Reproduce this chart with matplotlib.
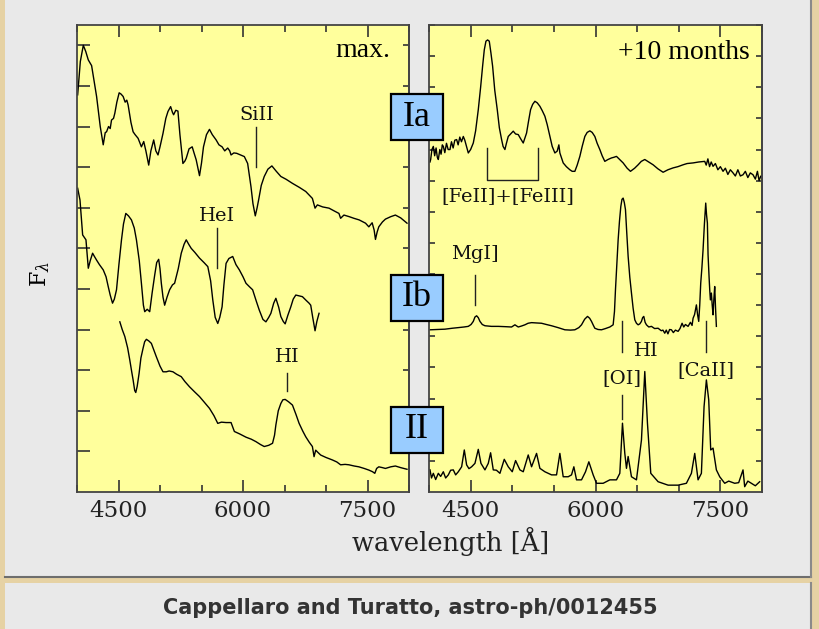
import matplotlib
matplotlib.use('Agg')
import matplotlib.pyplot as plt
from matplotlib.patches import Rectangle
from matplotlib.ticker import FixedLocator, MultipleLocator

# ---------------- data ----------------
# left panel: spectra at maximum
ia_max_wl = [4008, 4040, 4076, 4105, 4136, 4176, 4236, 4280, 4316, 4340, 4356, 4380, 4400, 4416, 4440,
             4456, 4480, 4508, 4530, 4556, 4580, 4600, 4616, 4650, 4676, 4700, 4736, 4776, 4804, 4830,
             4864, 4890, 4924, 4950, 4976, 5000, 5036, 5070, 5096, 5128, 5150, 5164, 5190, 5216, 5240,
             5276, 5300, 5316, 5350, 5388, 5410, 5436, 5476, 5500, 5524, 5560, 5596, 5630, 5676, 5710,
             5748, 5780, 5816, 5840, 5856, 5890, 5924, 5970, 6016, 6056, 6096, 6120, 6148, 6170, 6188,
             6220, 6256, 6300, 6348, 6400, 6456, 6520, 6596, 6680, 6756, 6836, 6868, 6896, 6960, 7036,
             7100, 7156, 7176, 7216, 7280, 7336, 7400, 7476, 7516, 7556, 7580, 7596, 7616, 7636, 7680,
             7716, 7780, 7836, 7900, 7976]
ia_max_fl = [9.78, 10.6, 11.0, 10.85, 10.64, 10.5, 9.74, 9.0, 8.55, 8.85, 8.87, 9.0, 8.95, 9.16, 9.2,
             9.33, 9.6, 9.83, 9.8, 9.74, 9.6, 9.65, 9.53, 9.1, 8.87, 8.8, 8.71, 8.5, 8.63, 8.4,
             8.05, 8.4, 8.67, 8.4, 8.3, 8.5, 8.83, 9.2, 9.37, 9.49, 9.35, 9.29, 9.4, 9.38, 8.8,
             8.09, 8.15, 8.22, 8.45, 8.5, 8.35, 8.18, 7.79, 8.1, 8.5, 8.8, 8.93, 8.8, 8.67, 8.55,
             8.5, 8.4, 8.47, 8.4, 8.3, 8.35, 8.34, 8.3, 8.26, 8.09, 7.52, 7.1, 6.8, 7.0, 7.19,
             7.55, 7.77, 7.95, 8.03, 7.9, 7.77, 7.7, 7.6, 7.5, 7.4, 7.23, 6.99, 7.07, 7.02, 6.99,
             6.92, 6.86, 6.74, 6.82, 6.78, 6.74, 6.7, 6.62, 6.53, 6.63, 6.45, 6.22, 6.4, 6.53, 6.65,
             6.72, 6.78, 6.82, 6.75, 6.62]

ib_max_wl = [4008, 4036, 4068, 4108, 4136, 4160, 4188, 4210, 4236, 4270, 4316, 4350, 4376, 4400, 4428,
             4450, 4476, 4505, 4536, 4560, 4588, 4620, 4656, 4690, 4716, 4750, 4776, 4800, 4816, 4846,
             4876, 4905, 4936, 4960, 4984, 5000, 5016, 5036, 5056, 5085, 5116, 5150, 5176, 5220, 5256,
             5290, 5316, 5346, 5376, 5420, 5476, 5530, 5576, 5610, 5636, 5665, 5696, 5720, 5748, 5770,
             5796, 5830, 5876, 5915, 5956, 6000, 6036, 6080, 6116, 6160, 6196, 6240, 6276, 6310, 6336,
             6370, 6396, 6430, 6456, 6485, 6508, 6540, 6576, 6605, 6636, 6676, 6716, 6760, 6796, 6816,
             6840, 6868, 6890, 6916]
ib_max_fl = [7.48, 7.19, 6.33, 6.21, 5.51, 5.7, 5.88, 5.8, 5.71, 5.6, 5.47, 5.3, 5.06, 4.85, 4.65,
             4.75, 4.98, 5.6, 6.21, 6.6, 6.86, 6.8, 6.7, 6.5, 6.21, 5.7, 5.14, 4.6, 4.44, 4.5,
             4.44, 4.9, 5.34, 5.65, 5.73, 5.5, 5.14, 4.8, 4.6, 4.8, 4.98, 5.1, 5.14, 5.5, 5.88,
             6.1, 6.21, 6.1, 6.0, 5.9, 5.76, 5.65, 5.55, 5.2, 4.73, 4.3, 4.15, 4.3, 4.56, 5.1,
             5.63, 5.75, 5.8, 5.6, 5.47, 5.3, 5.14, 5.05, 4.98, 4.7, 4.48, 4.25, 4.19, 4.3, 4.4,
             4.65, 4.77, 4.55, 4.32, 4.2, 4.14, 4.35, 4.56, 4.75, 4.85, 4.83, 4.81, 4.72, 4.65, 4.6,
             4.3, 3.97, 4.2, 4.4]

ii_max_wl = [4516, 4545, 4576, 4610, 4636, 4660, 4676, 4695, 4708, 4725, 4748, 4770, 4796, 4815, 4836,
             4865, 4896, 4925, 4956, 5000, 5036, 5076, 5110, 5156, 5200, 5256, 5300, 5356, 5420, 5476,
             5530, 5596, 5650, 5696, 5740, 5796, 5856, 5896, 5960, 6036, 6100, 6156, 6210, 6256, 6310,
             6356, 6380, 6396, 6425, 6456, 6480, 6508, 6550, 6596, 6640, 6676, 6720, 6756, 6800, 6836,
             6856, 6876, 6900, 6936, 7000, 7076, 7130, 7176, 7230, 7276, 7340, 7396, 7460, 7516, 7560,
             7588, 7610, 7636, 7680, 7716, 7780, 7836, 7900, 7976]
ii_max_fl = [4.19, 4.0, 3.83, 3.55, 3.25, 2.95, 2.76, 2.5, 2.45, 2.6, 2.92, 3.3, 3.54, 3.7, 3.76,
             3.72, 3.66, 3.5, 3.33, 3.1, 2.96, 2.96, 2.98, 2.96, 2.9, 2.84, 2.72, 2.59, 2.46, 2.35,
             2.22, 2.06, 1.88, 1.69, 1.72, 1.71, 1.71, 1.49, 1.43, 1.35, 1.3, 1.24, 1.17, 1.12, 1.15,
             1.2, 1.4, 1.65, 2.0, 2.18, 2.27, 2.28, 2.22, 2.14, 1.9, 1.69, 1.5, 1.36, 1.22, 1.12,
             0.87, 1.03, 0.98, 0.91, 0.85, 0.79, 0.74, 0.67, 0.68, 0.67, 0.64, 0.62, 0.58, 0.54, 0.5,
             0.46, 0.58, 0.62, 0.6, 0.58, 0.62, 0.64, 0.6, 0.56]

# right panel: spectra about 10 months later
ia_late_wl = [4012, 4020, 4035, 4052, 4068, 4085, 4100, 4112, 4130, 4145, 4160, 4172, 4190, 4210, 4230,
              4252, 4270, 4290, 4310, 4332, 4350, 4370, 4390, 4412, 4430, 4450, 4472, 4500, 4532, 4560,
              4592, 4620, 4644, 4664, 4684, 4704, 4724, 4744, 4764, 4790, 4820, 4845, 4872, 4890, 4912,
              4930, 4952, 4980, 5012, 5040, 5072, 5100, 5132, 5150, 5172, 5195, 5220, 5245, 5272, 5300,
              5332, 5360, 5392, 5420, 5452, 5480, 5512, 5540, 5560, 5572, 5590, 5612, 5650, 5692, 5720,
              5752, 5780, 5812, 5840, 5872, 5900, 5932, 5960, 5992, 6020, 6052, 6080, 6112, 6150, 6192,
              6220, 6252, 6290, 6332, 6380, 6420, 6470, 6512, 6550, 6592, 6640, 6692, 6750, 6812, 6870,
              6932, 6990, 7052, 7100, 7172, 7240, 7312, 7330, 7350, 7370, 7390, 7412, 7440, 7470, 7500,
              7532, 7560, 7590, 7620, 7652, 7680, 7710, 7740, 7772, 7800, 7830, 7860, 7892, 7920, 7945,
              7965, 7984]
ia_late_fl = [10.6, 10.68, 11.0, 11.1, 10.8, 11.05, 10.75, 10.68, 11.0, 10.85, 11.15, 11.1, 10.9, 11.2, 11.0,
              11.0, 11.25, 11.05, 11.3, 11.32, 11.15, 11.4, 11.25, 11.42, 11.3, 11.1, 10.89, 11.0, 11.21, 11.6,
              12.28, 13.0, 13.68, 14.2, 14.48, 14.52, 14.48, 14.1, 13.68, 12.9, 12.28, 11.7, 11.32, 11.1, 11.0,
              11.2, 11.42, 11.5, 11.59, 11.5, 11.48, 11.35, 11.21, 11.35, 11.53, 11.9, 12.28, 12.45, 12.55, 12.5,
              12.39, 12.25, 12.07, 11.8, 11.42, 11.1, 10.89, 10.95, 11.15, 10.89, 10.75, 10.57, 10.45, 10.35, 10.3,
              10.3, 10.5, 10.78, 11.1, 11.42, 11.55, 11.6, 11.55, 11.42, 11.2, 11.0, 10.8, 10.62, 10.68, 10.73,
              10.75, 10.78, 10.68, 10.57, 10.4, 10.3, 10.4, 10.51, 10.62, 10.68, 10.6, 10.51, 10.38, 10.27, 10.35,
              10.41, 10.45, 10.51, 10.55, 10.57, 10.6, 10.62, 10.5, 10.7, 10.45, 10.6, 10.46, 10.55, 10.35, 10.45,
              10.3, 10.4, 10.2, 10.35, 10.25, 10.15, 10.35, 10.15, 10.19, 10.3, 10.1, 10.25, 10.19, 10.05, 10.3,
              10.0, 10.14]

ib_late_wl = [4012, 4100, 4192, 4280, 4352, 4420, 4472, 4505, 4532, 4552, 4572, 4592, 4612, 4640, 4672,
              4750, 4832, 4920, 4992, 5032, 5072, 5110, 5152, 5190, 5232, 5290, 5352, 5410, 5472, 5550,
              5632, 5700, 5752, 5800, 5832, 5870, 5904, 5930, 5952, 5975, 5992, 6030, 6072, 6120, 6172,
              6212, 6228, 6240, 6256, 6272, 6288, 6304, 6318, 6332, 6346, 6360, 6376, 6392, 6412, 6432,
              6452, 6472, 6492, 6512, 6532, 6552, 6566, 6580, 6596, 6612, 6640, 6672, 6710, 6752, 6790,
              6810, 6832, 6850, 6870, 6890, 6912, 6935, 6960, 6992, 7015, 7040, 7060, 7080, 7112, 7140,
              7160, 7172, 7190, 7212, 7226, 7240, 7252, 7264, 7278, 7292, 7308, 7324, 7334, 7344, 7352,
              7364, 7372, 7380, 7392, 7402, 7412, 7422, 7432, 7442, 7452]
ib_late_fl = [5.21, 5.22, 5.23, 5.26, 5.28, 5.3, 5.32, 5.38, 5.48, 5.62, 5.66, 5.6, 5.48, 5.38, 5.34,
              5.32, 5.32, 5.31, 5.3, 5.37, 5.3, 5.33, 5.37, 5.42, 5.44, 5.43, 5.42, 5.38, 5.34, 5.28,
              5.21, 5.2, 5.21, 5.28, 5.37, 5.55, 5.64, 5.58, 5.48, 5.35, 5.26, 5.22, 5.21, 5.25, 5.3,
              5.37, 5.8, 6.5, 7.3, 8.1, 8.7, 9.17, 9.4, 9.44, 9.3, 9.07, 8.3, 7.57, 6.9, 6.39,
              5.9, 5.53, 5.42, 5.37, 5.4, 5.48, 5.6, 5.64, 5.45, 5.37, 5.3, 5.32, 5.25, 5.26, 5.18,
              5.2, 5.1, 5.2, 5.08, 5.22, 5.21, 5.12, 5.2, 5.16, 5.25, 5.42, 5.3, 5.38, 5.32, 5.45,
              5.35, 5.58, 5.7, 6.01, 5.7, 5.48, 6.0, 6.71, 7.2, 7.78, 8.6, 9.28, 8.9, 8.64, 7.62,
              6.92, 6.5, 6.17, 6.39, 6.0, 5.69, 6.2, 6.6, 5.9, 5.32]

ii_late_wl = [4012, 4030, 4052, 4080, 4112, 4140, 4172, 4200, 4232, 4260, 4292, 4320, 4352, 4392, 4424,
              4452, 4480, 4512, 4552, 4592, 4624, 4672, 4712, 4740, 4772, 4810, 4852, 4904, 4952, 5000,
              5040, 5092, 5132, 5192, 5232, 5292, 5332, 5392, 5472, 5532, 5572, 5612, 5672, 5712, 5740,
              5772, 5832, 5880, 5920, 5972, 6012, 6092, 6172, 6252, 6292, 6324, 6352, 6372, 6392, 6432,
              6492, 6552, 6592, 6624, 6664, 6752, 6872, 6992, 7092, 7152, 7192, 7232, 7272, 7304, 7332,
              7360, 7384, 7412, 7452, 7492, 7552, 7600, 7672, 7720, 7772, 7792, 7830, 7872, 7920, 7972]
ii_late_fl = [0.71, 0.45, 0.6, 0.4, 0.6, 0.5, 0.65, 0.45, 0.55, 0.7, 0.71, 0.55, 0.65, 0.81, 1.35,
              0.87, 0.75, 0.81, 0.92, 1.37, 0.92, 0.71, 0.92, 1.26, 0.71, 0.7, 0.6, 1.05, 0.81, 0.65,
              1.01, 0.71, 0.65, 1.19, 0.81, 1.24, 0.76, 0.65, 0.55, 0.55, 1.24, 0.49, 0.49, 0.55, 0.81,
              0.39, 0.39, 0.65, 0.97, 0.55, 0.28, 0.28, 0.39, 0.39, 0.6, 2.21, 1.24, 0.76, 1.14, 0.49,
              0.39, 1.67, 3.87, 2.21, 0.6, 0.33, 0.22, 0.22, 0.28, 0.6, 1.24, 0.39, 0.6, 2.74, 3.6,
              2.96, 1.35, 1.41, 0.71, 0.49, 0.28, 0.35, 0.28, 0.3, 0.71, 0.17, 0.35, 0.28, 0.2, 0.33]

x_major = [4500, 6000, 7500]

# ---------------- colours / fonts ----------------
grey_bg = '#e9e9e9'
tan = '#e6d2a4'
yellow = '#ffff9c'
box_blue = '#99ccff'
serif = 'DejaVu Serif'
times = 'Liberation Serif'

W, H = 819, 629
fig = plt.figure(figsize=(W / 100, H / 100), dpi=100)
fig.patch.set_facecolor(tan)


def fx(px):
    return px / W


def fy(py):
    return 1 - py / H


# page panels behind the chart
fig.add_artist(Rectangle((fx(5), fy(577)), fx(806), 577 / H, transform=fig.transFigure,
                         fc=grey_bg, ec='none', zorder=-10))
fig.add_artist(plt.Line2D([fx(5), fx(811)], [fy(577), fy(577)], transform=fig.transFigure,
                          color='#6e6e6e', lw=1.5, zorder=-9))
fig.add_artist(plt.Line2D([fx(811), fx(811)], [fy(0), fy(577)], transform=fig.transFigure,
                          color='#8a8a8a', lw=1.5, zorder=-9))
fig.add_artist(Rectangle((fx(5), 0), fx(806), 46 / H, transform=fig.transFigure,
                         fc=grey_bg, ec='none', zorder=-10))
fig.add_artist(plt.Line2D([fx(811), fx(811)], [0, fy(583)], transform=fig.transFigure,
                          color='#8a8a8a', lw=1.5, zorder=-9))

ax1 = fig.add_axes([fx(77), fy(492), fx(332), 467 / H])
ax2 = fig.add_axes([fx(429), fy(492), fx(333), 467 / H])


def style_axes(ax, ymax, left_len):
    ax.set_facecolor(yellow)
    ax.set_xlim(4000, 8000)
    ax.set_ylim(0, ymax)
    ax.xaxis.set_major_locator(FixedLocator(x_major))
    ax.xaxis.set_minor_locator(MultipleLocator(500))
    ax.set_xticklabels([str(v) for v in x_major], fontfamily=serif)
    ax.set_yticks(range(1, int(ymax) + 1))
    ax.yaxis.set_ticklabels([])
    ax.tick_params(axis='x', which='major', direction='in', length=8.5, width=1.2,
                   top=True, labelsize=16.5, pad=6, colors='#333333', labelcolor='#222222')
    ax.tick_params(axis='x', which='minor', direction='in', length=5, width=1.2, top=True,
                   colors='#333333')
    ax.tick_params(axis='y', which='major', direction='in', length=left_len, width=1.2,
                   left=True, right=False, colors='#333333')
    sec = ax.secondary_yaxis('right')
    sec.set_yticks(range(1, int(ymax) + 1))
    sec.yaxis.set_ticklabels([])
    sec.tick_params(axis='y', direction='in', length=4.5, width=1.2, colors='#333333')
    sec.spines['right'].set_color('#444444')
    sec.spines['right'].set_linewidth(1.3)
    for s in ax.spines.values():
        s.set_color('#444444')
        s.set_linewidth(1.3)


style_axes(ax1, 11.5, 9)
style_axes(ax2, 15.0, 4.5)

lw = 1.0
ax1.plot(ia_max_wl, ia_max_fl, color='black', lw=lw)
ax1.plot(ib_max_wl, ib_max_fl, color='black', lw=lw)
ax1.plot(ii_max_wl, ii_max_fl, color='black', lw=lw)
ax2.plot(ia_late_wl, ia_late_fl, color='black', lw=lw)
ax2.plot(ib_late_wl, ib_late_fl, color='black', lw=lw)
ax2.plot(ii_late_wl, ii_late_fl, color='black', lw=lw)

lab = dict(fontfamily=serif, fontsize=14, ha='center', va='center', color='#111111')
mark = dict(color='#222222', lw=1.0)

# left panel labels
ax1.text(0.943, 0.946, 'max.', transform=ax1.transAxes, ha='right', va='center',
         fontfamily=times, fontsize=20)
ax1.text(6160, 9.29, 'SiII', **lab)
ax1.plot([6160, 6160], [8.0, 9.0], **mark)
ax1.text(5692, 6.8, 'HeI', **lab)
ax1.plot([5692, 5692], [5.52, 6.5], **mark)
ax1.text(6532, 3.33, 'HI', **lab)
ax1.plot([6532, 6532], [2.49, 2.93], **mark)

# right panel labels
ax2.text(0.964, 0.942, '+10 months', transform=ax2.transAxes, ha='right', va='center',
         fontfamily=times, fontsize=20)
ax2.plot([4696, 4696, 5308, 5308], [11.06, 10.03, 10.03, 11.06], **mark)
ax2.text(4948, 9.52, '[FeII]+[FeIII]', **lab)
ax2.text(4552, 7.65, 'MgI]', **lab)
ax2.plot([4552, 4552], [6.01, 6.98], **mark)
ax2.plot([6324, 6324], [4.5, 5.5], **mark)
ax2.plot([6324, 6324], [2.35, 3.12], **mark)
ax2.text(6316, 3.67, '[OI]', **lab)
ax2.text(6604, 4.53, 'HI', **lab)
ax2.plot([7324, 7324], [4.5, 5.5], **mark)
ax2.text(7324, 3.92, '[CaII]', **lab)

# type boxes between the panels
for name, top in [('Ia', 94), ('Ib', 275), ('II', 407)]:
    fig.add_artist(Rectangle((fx(391), fy(top + 46)), fx(52), 46 / H, transform=fig.transFigure,
                             fc=box_blue, ec='black', lw=1.6, zorder=5))
    fig.text(fx(417), fy(top + 23), name, ha='center', va='center', fontfamily=times,
             fontsize=26, zorder=6)

# axis labels
fig.text(fx(40), fy(274), r'F$_\lambda$', rotation=90, ha='center', va='center',
         fontfamily=serif, fontsize=16, math_fontfamily='dejavuserif')
fig.text(fx(451), fy(541), 'wavelength [Å]', ha='center', va='center', fontfamily=serif,
         fontsize=18.5, color='#222222')

# caption
fig.text(fx(410), fy(608), 'Cappellaro and Turatto, astro-ph/0012455', ha='center', va='center',
         fontfamily='DejaVu Sans', fontweight='bold', fontsize=15, color='#333333')

fig.savefig('out.png', dpi=100, facecolor=fig.get_facecolor())
